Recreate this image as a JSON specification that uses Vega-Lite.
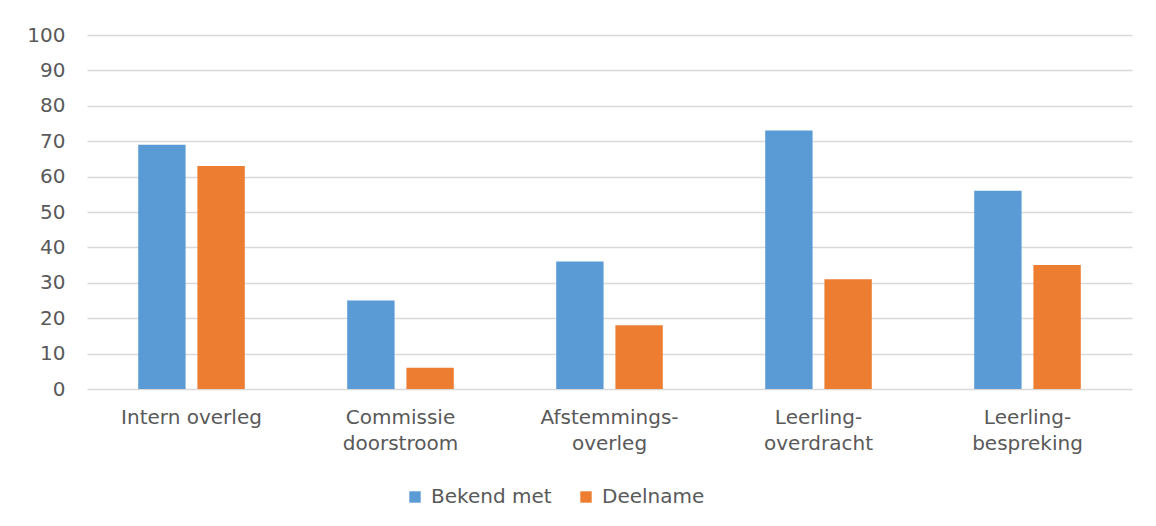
{
  "$schema": "https://vega.github.io/schema/vega-lite/v6.json",
  "autosize": {"type": "none"},
  "padding": {"left": 87, "top": 35, "right": 24, "bottom": 137},
  "width": 1045,
  "height": 354,
  "background": "white",
  "config": {
    "font": "DejaVu Sans",
    "view": {"stroke": null},
    "axis": {"labelColor": "#595959", "labelFontSize": 20, "gridColor": "#D9D9D9", "gridWidth": 1.5, "ticks": false, "domain": false},
    "legend": {"labelColor": "#595959", "labelFontSize": 20}
  },
  "data": {
    "values": [
      {"cat": "Intern overleg", "series": "Bekend met", "value": 69},
      {"cat": "Intern overleg", "series": "Deelname", "value": 63},
      {"cat": "Commissie|doorstroom", "series": "Bekend met", "value": 25},
      {"cat": "Commissie|doorstroom", "series": "Deelname", "value": 6},
      {"cat": "Afstemmings-|overleg", "series": "Bekend met", "value": 36},
      {"cat": "Afstemmings-|overleg", "series": "Deelname", "value": 18},
      {"cat": "Leerling-|overdracht", "series": "Bekend met", "value": 73},
      {"cat": "Leerling-|overdracht", "series": "Deelname", "value": 31},
      {"cat": "Leerling-|bespreking", "series": "Bekend met", "value": 56},
      {"cat": "Leerling-|bespreking", "series": "Deelname", "value": 35}
    ]
  },
  "mark": {"type": "bar"},
  "encoding": {
    "x": {
      "field": "cat", "type": "nominal", "sort": null, "title": null,
      "scale": {"paddingInner": 0.49, "paddingOuter": 0.245},
      "axis": {"labelAngle": 0, "labelExpr": "split(datum.label, '|')", "labelPadding": 18, "labelLineHeight": 26, "grid": false, "labelBaseline": "top"}
    },
    "xOffset": {"field": "series", "type": "nominal", "scale": {"paddingInner": 0.2, "paddingOuter": 0}},
    "y": {
      "field": "value", "type": "quantitative", "title": null,
      "scale": {"domain": [0, 100], "nice": false},
      "axis": {"values": [0,10,20,30,40,50,60,70,80,90,100], "labelPadding": 22}
    },
    "color": {
      "field": "series", "type": "nominal", "title": null,
      "scale": {"domain": ["Bekend met", "Deelname"], "range": ["#5B9BD5", "#ED7D31"]},
      "legend": {"orient": "none", "legendX": 318, "legendY": 452, "direction": "horizontal", "symbolType": "square", "symbolSize": 130, "symbolStrokeWidth": 0, "columnPadding": 24, "labelOffset": 6}
    }
  }
}
